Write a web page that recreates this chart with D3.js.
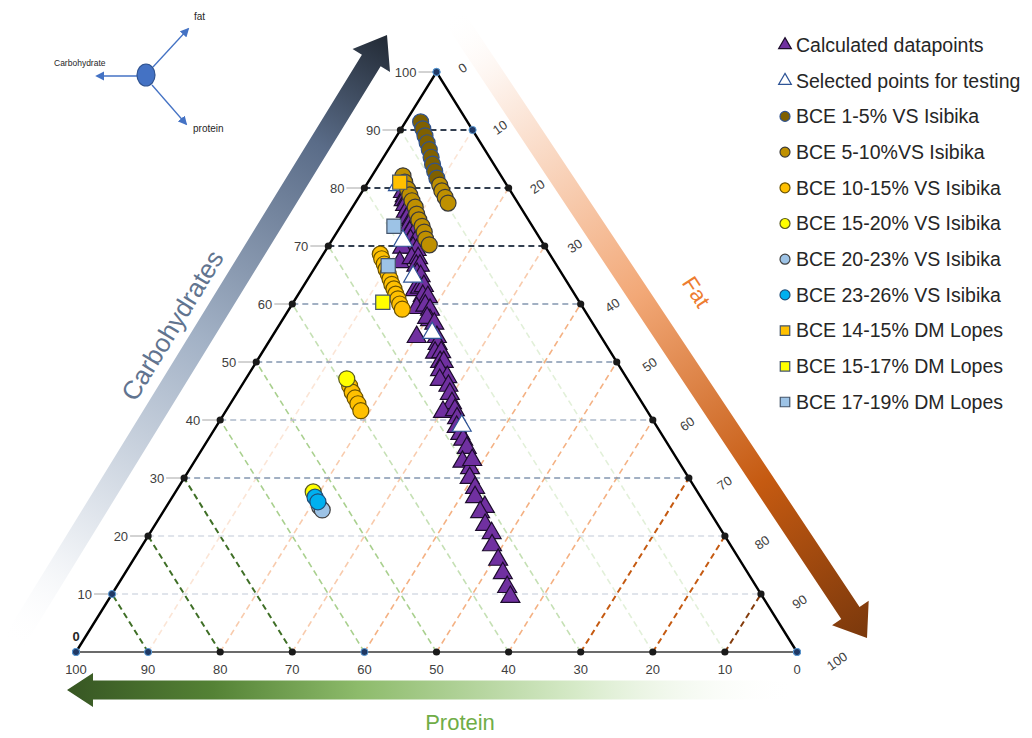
<!DOCTYPE html>
<html>
<head>
<meta charset="utf-8">
<script src="https://cdn.jsdelivr.net/npm/d3@7"></script>
<style>
body { margin: 0; background: #fff; }
svg { display: block; font-family: "Liberation Sans", Arial, sans-serif; }
</style>
</head>
<body>
<div id="chart"></div>
<script>
// compositions as [carbohydrate %, fat %]; protein = rest
var ticks = [0, 10, 20, 30, 40, 50, 60, 70, 80, 90, 100];

var calculated = [
  [79.3, 5.7], [78.6, 6.3], [77.9, 6.5], [77.9, 6.9], [77.1, 7.1], [76.6, 7.8], [75.9, 7.8], [75.9, 8.4],
  [74.8, 8.5], [74.5, 9.2], [73.6, 9.4], [73.4, 10.0], [72.4, 10.1], [72.1, 10.8], [71.0, 10.9], [70.7, 11.7],
  [69.7, 11.9], [69.3, 12.6], [69.7, 10.4], [67.2, 11.3], [67.9, 12.6], [67.9, 13.5], [66.6, 13.9], [66.6, 14.4],
  [65.2, 14.7], [64.8, 15.4], [62.4, 15.8], [62.8, 16.3], [63.1, 16.7], [61.4, 17.4], [61.2, 18.2], [59.3, 17.6],
  [59.7, 18.6], [59.0, 19.6], [57.2, 20.5], [57.6, 19.9], [56.6, 21.4], [54.3, 20.1], [54.3, 22.9], [53.1, 23.6],
  [51.6, 24.0], [51.7, 24.8], [50.0, 25.5], [50.0, 26.0], [48.6, 26.2], [47.4, 27.8], [46.9, 27.0], [45.9, 28.7],
  [44.5, 29.6], [42.9, 30.7], [41.4, 30.2], [41.7, 31.7], [40.3, 32.7], [38.8, 33.4], [37.6, 34.5], [36.6, 35.4],
  [35.2, 36.6], [32.8, 37.2], [31.7, 38.8], [33.1, 38.4], [30.0, 39.6], [28.3, 41.2], [26.7, 42.0], [25.0, 44.2],
  [24.1, 44.0], [21.9, 45.8], [20.5, 47.4], [18.4, 48.5], [15.9, 50.6], [13.6, 52.4], [11.2, 54.2], [9.5, 55.5]
];
var selected = [[80.5, 4.4], [70.9, 9.9], [64.7, 14.4], [55.0, 21.9], [39.0, 34.0]];

var bce1to5 = [[91.4, 2.1], [90.2, 3.0], [89.0, 3.9], [87.8, 4.8], [86.6, 5.7], [85.3, 6.6], [84.1, 7.4], [82.9, 8.3], [81.7, 9.2]];
var bce5to10 = [
  [80.5, 10.2], [79.5, 11.0], [78.4, 12.0], [77.4, 12.9],
  [82.1, 4.3], [81.0, 5.1], [79.8, 6.1], [78.8, 6.9], [77.8, 7.7], [76.7, 8.7], [75.5, 9.5], [74.5, 10.3],
  [73.4, 11.3], [72.4, 12.1], [71.2, 12.9], [70.2, 13.9]
];
var bce10to15 = [
  [68.6, 7.9], [67.8, 8.5], [66.9, 9.3], [66.0, 10.0], [65.2, 10.7], [64.3, 11.4], [63.4, 12.1], [62.6, 12.8],
  [61.7, 13.5], [60.9, 14.2], [60.0, 14.9], [59.1, 15.7],
  [45.9, 15.0], [44.8, 15.9], [43.8, 16.8], [42.8, 17.7], [41.6, 18.7]
];
var bce15to20 = [[47.1, 14.0], [27.6, 19.1]];
var bce20to23 = [[25.0, 21.3], [24.5, 21.9]];
var bce23to26 = [[26.7, 19.8], [25.9, 20.6]];
var lopes14to15 = [[81.0, 4.4]];
var lopes15to17 = [[60.3, 12.4]];
var lopes17to19 = [[73.4, 7.4], [66.6, 10.0]];

var series = [
  {name: "Calculated datapoints", data: calculated, shape: "triangle", fill: "#7030a0", stroke: "#1c0c2c"},
  {name: "Selected points for testing", data: selected, shape: "triangle", fill: "#ffffff", stroke: "#2f5597"},
  {name: "BCE 1-5% VS Isibika", data: bce1to5, shape: "circle", fill: "#7f6000", stroke: "#2f528f"},
  {name: "BCE 5-10%VS Isibika", data: bce5to10, shape: "circle", fill: "#bf9000", stroke: "#3a3a3a"},
  {name: "BCE 10-15% VS Isibika", data: bce10to15, shape: "circle", fill: "#ffc000", stroke: "#6b5200"},
  {name: "BCE 15-20% VS Isibika", data: bce15to20, shape: "circle", fill: "#ffff00", stroke: "#5a5a20"},
  {name: "BCE 20-23% VS Isibika", data: bce20to23, shape: "circle", fill: "#9dc3e6", stroke: "#404040"},
  {name: "BCE 23-26% VS Isibika", data: bce23to26, shape: "circle", fill: "#00b0f0", stroke: "#1f4e79"},
  {name: "BCE 14-15% DM Lopes", data: lopes14to15, shape: "square", fill: "#ffc000", stroke: "#44546a"},
  {name: "BCE 15-17% DM Lopes", data: lopes15to17, shape: "square", fill: "#ffff00", stroke: "#44546a"},
  {name: "BCE 17-19% DM Lopes", data: lopes17to19, shape: "square", fill: "#9dc3e6", stroke: "#44546a"}
];

var carbColors = {10: "#d6dce5", 20: "#d6dce5", 30: "#8497b0", 40: "#adb9ca", 50: "#8497b0", 60: "#8497b0", 70: "#333f50", 80: "#333f50", 90: "#333f50"};
var proteinColors = {10: "#e2f0d9", 20: "#e2f0d9", 30: "#c5e0b4", 40: "#c5e0b4", 50: "#a9d08e", 60: "#a9d08e", 70: "#3f6f26", 80: "#3f6f26", 90: "#3f6f26"};
var fatColors = {10: "#fbe5d6", 20: "#f8cbad", 30: "#f8cbad", 40: "#f4b183", 50: "#f4b183", 60: "#f4b183", 70: "#c55a11", 80: "#c55a11", 90: "#843c0c"};

var W = 1032, H = 738;
var svg = d3.select("#chart").append("svg").attr("width", W).attr("height", H);
var defs = svg.append("defs");

// ternary frame: carbohydrate on the height, fat/carb along the base
var carbY = d3.scaleLinear().domain([0, 100]).range([652, 72]);
var span = d3.scaleLinear().domain([0, 100]).range([0, 721]);
var x0 = 76;
function pt(c, f) { return [x0 + span(f) + span(c) / 2, carbY(c)]; }

// ---- gradient arrows
function arrowPath(s, t, w, hw, hl) {
  var dx = t[0] - s[0], dy = t[1] - s[1], L = Math.sqrt(dx * dx + dy * dy);
  var ux = dx / L, uy = dy / L, nx = -uy, ny = ux;
  var nk = [t[0] - ux * hl, t[1] - uy * hl];
  var p = [
    [s[0] + nx * w / 2, s[1] + ny * w / 2],
    [nk[0] + nx * w / 2, nk[1] + ny * w / 2],
    [nk[0] + nx * hw / 2, nk[1] + ny * hw / 2],
    t,
    [nk[0] - nx * hw / 2, nk[1] - ny * hw / 2],
    [nk[0] - nx * w / 2, nk[1] - ny * w / 2],
    [s[0] - nx * w / 2, s[1] - ny * w / 2]
  ];
  return "M" + p.map(function(d) { return d.join(","); }).join("L") + "Z";
}
function gradient(id, s, t, stops) {
  var g = defs.append("linearGradient").attr("id", id).attr("gradientUnits", "userSpaceOnUse")
    .attr("x1", s[0]).attr("y1", s[1]).attr("x2", t[0]).attr("y2", t[1]);
  stops.forEach(function(d) { g.append("stop").attr("offset", d[0]).attr("stop-color", d[1]).attr("stop-opacity", d[2] == null ? 1 : d[2]); });
}

var carbArrow = {s: [12, 645], t: [387, 35]};
var fatArrow = {s: [452, 14], t: [867, 638]};
var protArrow = {s: [795, 690], t: [67, 690]};

gradient("gCarb", carbArrow.s, carbArrow.t, [[0, "#ffffff", 0], [0.15, "#eef1f5"], [0.5, "#a3b2c6"], [0.82, "#5a6c88"], [1, "#222a35"]]);
gradient("gFat", fatArrow.s, fatArrow.t, [[0, "#ffffff", 0], [0.12, "#fdf0e8"], [0.45, "#f2a877"], [0.75, "#c55a11"], [1, "#7a380c"]]);
gradient("gProt", protArrow.s, protArrow.t, [[0, "#ffffff", 0], [0.3, "#d6eac8"], [0.6, "#8dbb6b"], [0.8, "#548235"], [1, "#375623"]]);

svg.append("path").attr("d", arrowPath(carbArrow.s, carbArrow.t, 22, 44, 30)).attr("fill", "url(#gCarb)");
svg.append("path").attr("d", arrowPath(fatArrow.s, fatArrow.t, 22, 44, 30)).attr("fill", "url(#gFat)");
svg.append("path").attr("d", arrowPath(protArrow.s, protArrow.t, 19, 34, 26)).attr("fill", "url(#gProt)");

svg.append("text").attr("transform", "translate(180,330) rotate(-58.5)")
  .attr("text-anchor", "middle").attr("font-size", 26).attr("fill", "#61748f").text("Carbohydrates");
svg.append("text").attr("transform", "translate(690,296) rotate(57)")
  .attr("text-anchor", "middle").attr("font-size", 22).attr("fill", "#ed7d31").text("Fat");
svg.append("text").attr("x", 460).attr("y", 730)
  .attr("text-anchor", "middle").attr("font-size", 22).attr("fill", "#70ad47").text("Protein");

// ---- grid lines
var inner = ticks.slice(1, -1);
var grid = svg.append("g").attr("fill", "none").attr("stroke-dasharray", "6,4");

grid.selectAll(".pl").data(inner).enter().append("line")
  .attr("x1", function(p) { return pt(0, 100 - p)[0]; }).attr("y1", function(p) { return pt(0, 100 - p)[1]; })
  .attr("x2", function(p) { return pt(100 - p, 0)[0]; }).attr("y2", function(p) { return pt(100 - p, 0)[1]; })
  .attr("stroke", function(p) { return proteinColors[p]; })
  .attr("stroke-width", function(p) { return p >= 70 ? 2 : 1.6; });

grid.selectAll(".fl").data(inner).enter().append("line")
  .attr("x1", function(f) { return pt(0, f)[0]; }).attr("y1", function(f) { return pt(0, f)[1]; })
  .attr("x2", function(f) { return pt(100 - f, f)[0]; }).attr("y2", function(f) { return pt(100 - f, f)[1]; })
  .attr("stroke", function(f) { return fatColors[f]; })
  .attr("stroke-width", function(f) { return f >= 70 ? 2 : 1.6; });

grid.selectAll(".cl").data(inner).enter().append("line")
  .attr("x1", function(c) { return pt(c, 0)[0]; }).attr("y1", function(c) { return pt(c, 0)[1]; })
  .attr("x2", function(c) { return pt(c, 100 - c)[0]; }).attr("y2", function(c) { return pt(c, 100 - c)[1]; })
  .attr("stroke", function(c) { return carbColors[c]; })
  .attr("stroke-width", function(c) { return c >= 70 ? 2 : 1.6; });

// ---- frame
var A = pt(0, 0), B = pt(0, 100), T = pt(100, 0);
svg.append("line").attr("x1", A[0]).attr("y1", A[1]).attr("x2", B[0]).attr("y2", B[1]).attr("stroke", "#3a3a3a").attr("stroke-width", 1.6);
svg.append("path").attr("d", "M" + A + "L" + T + "L" + B).attr("fill", "none").attr("stroke", "#000").attr("stroke-width", 2.4);

// ---- tick labels and dots
var lab = svg.append("g").attr("font-size", 13).attr("fill", "#404040");

ticks.forEach(function(c) {
  var p = pt(c, 0);
  if (c === 0) {
    lab.append("text").attr("x", p[0]).attr("y", p[1] - 11).attr("text-anchor", "middle").attr("font-size", 13).attr("font-weight", "bold").attr("fill", "#262626").text("0");
  } else {
    lab.append("line").attr("x1", p[0] - 18).attr("x2", p[0] - 3).attr("y1", p[1]).attr("y2", p[1]).attr("stroke", "#a6a6a6");
    lab.append("text").attr("x", p[0] - 20).attr("y", p[1]).attr("dy", "0.35em").attr("text-anchor", "end").text(c);
  }
});
ticks.forEach(function(p) {
  var q = pt(0, 100 - p);
  lab.append("text").attr("x", q[0]).attr("y", q[1] + 22).attr("text-anchor", "middle").text(p);
});
ticks.forEach(function(f) {
  var q = pt(100 - f, f);
  var dx = 26 + 0.14 * f, dy = -4 + 0.13 * f;
  lab.append("text").attr("transform", "translate(" + (q[0] + dx) + "," + (q[1] + dy) + ") rotate(-35)")
    .attr("text-anchor", "middle").attr("dy", "0.35em").text(f);
});

var dots = [];
ticks.forEach(function(t) {
  dots.push({p: pt(t, 0), blue: t === 10 || t === 100 || t === 0});
  dots.push({p: pt(0, 100 - t), blue: t === 90 || t === 60 || t === 0 || t === 100});
  dots.push({p: pt(100 - t, t), blue: t === 10 || t === 0 || t === 100});
});
svg.append("g").selectAll("circle").data(dots).enter().append("circle")
  .attr("cx", function(d) { return d.p[0]; }).attr("cy", function(d) { return d.p[1]; })
  .attr("r", 3.6)
  .attr("fill", function(d) { return d.blue ? "#1f3864" : "#1a1a1a"; })
  .attr("stroke", function(d) { return d.blue ? "#5b9bd5" : "none"; })
  .attr("stroke-width", 1);

// ---- data marks
var triSym = d3.symbol().type(d3.symbolTriangle).size(155);
var sqSym = d3.symbol().type(d3.symbolSquare).size(200);
var marks = svg.append("g");
series.forEach(function(s) {
  var g = marks.append("g");
  var sel = g.selectAll(".m").data(s.data).enter();
  if (s.shape === "circle") {
    sel.append("circle")
      .attr("cx", function(d) { return pt(d[0], d[1])[0]; })
      .attr("cy", function(d) { return pt(d[0], d[1])[1]; })
      .attr("r", 8);
  } else {
    sel.append("path")
      .attr("d", s.shape === "triangle" ? triSym : sqSym)
      .attr("transform", function(d) { var q = pt(d[0], d[1]); return "translate(" + q[0] + "," + q[1] + ")"; });
  }
  g.selectAll("circle,path").attr("fill", s.fill).attr("stroke", s.stroke).attr("stroke-width", 1.2);
});

// ---- legend
var legend = svg.append("g").attr("font-size", 19.5).attr("fill", "#262626")
  .selectAll("g").data(series).enter().append("g")
  .attr("transform", function(d, i) { return "translate(785," + (45 + i * 35.7) + ")"; });
legend.each(function(s) {
  var g = d3.select(this);
  if (s.shape === "circle") g.append("circle").attr("r", 5);
  else g.append("path").attr("d", d3.symbol().type(s.shape === "triangle" ? d3.symbolTriangle : d3.symbolSquare).size(s.shape === "triangle" ? 70 : 90));
  g.selectAll("circle,path").attr("fill", s.fill).attr("stroke", s.stroke).attr("stroke-width", 1.2);
  g.append("text").attr("x", 11).attr("dy", "0.35em").text(s.name);
});

// ---- orientation inset
var ins = svg.append("g");
var ah = defs.append("marker").attr("id", "ah").attr("viewBox", "0 0 10 10").attr("refX", 8).attr("refY", 5)
  .attr("markerWidth", 7).attr("markerHeight", 7).attr("orient", "auto");
ah.append("path").attr("d", "M0,0L10,5L0,10Z").attr("fill", "#4472c4");
[[137, 76, 97, 76], [153, 67, 188, 29], [152, 85, 186, 124]].forEach(function(l) {
  ins.append("line").attr("x1", l[0]).attr("y1", l[1]).attr("x2", l[2]).attr("y2", l[3])
    .attr("stroke", "#4472c4").attr("stroke-width", 1.3).attr("marker-end", "url(#ah)");
});
ins.append("ellipse").attr("cx", 146).attr("cy", 75).attr("rx", 9).attr("ry", 11)
  .attr("fill", "#4472c4").attr("stroke", "#2f528f").attr("stroke-width", 1.2);
ins.append("text").attr("x", 194).attr("y", 20).attr("font-size", 10).attr("fill", "#262626").text("fat");
ins.append("text").attr("x", 54).attr("y", 66).attr("font-size", 8.5).attr("fill", "#262626").text("Carbohydrate");
ins.append("text").attr("x", 193).attr("y", 132).attr("font-size", 10).attr("fill", "#262626").text("protein");
</script>
</body>
</html>
